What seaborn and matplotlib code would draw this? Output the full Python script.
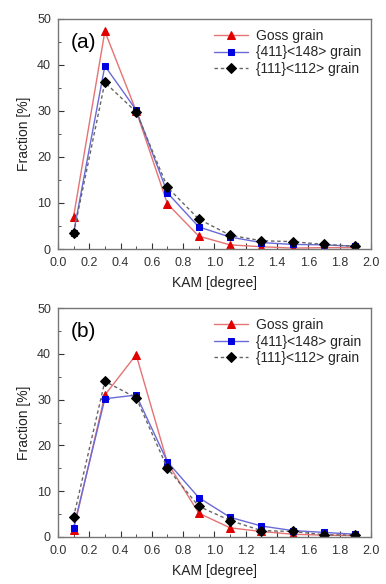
import numpy as np
import pandas as pd
import matplotlib
matplotlib.use("Agg")
import matplotlib.pyplot as plt
import seaborn as sns
from matplotlib.ticker import MultipleLocator, FormatStrFormatter

# KAM-Klassen (Mitte der Bins)
kam = [0.1, 0.3, 0.5, 0.7, 0.9, 1.1, 1.3, 1.5, 1.7, 1.9]
series_names = ["Goss grain", "{411}<148> grain", "{111}<112> grain"]

# Panel (a)
goss_a = [7.0, 47.3, 30.0, 9.8, 2.8, 0.9, 0.5, 0.2, 0.3, 0.3]
g411_a = [3.5, 39.8, 30.2, 12.2, 4.8, 2.6, 1.4, 1.0, 0.9, 0.6]
g111_a = [3.4, 36.2, 29.8, 13.4, 6.5, 3.0, 1.8, 1.6, 1.0, 0.6]

# Panel (b)
goss_b = [1.5, 31.0, 39.8, 16.2, 5.2, 2.0, 1.2, 0.6, 0.4, 0.3]
g411_b = [2.0, 30.2, 31.0, 16.4, 8.6, 4.3, 2.4, 1.4, 1.0, 0.6]
g111_b = [4.3, 34.0, 30.4, 15.0, 6.7, 3.6, 1.4, 1.2, 0.5, 0.4]

sns.set_style("ticks")
plt.rcParams['font.family'] = ['Liberation Sans', 'DejaVu Sans']

styles = {
    "Goss grain": dict(line="#e57373", mk="#e00000", marker="^", ls="-", ms=6),
    "{411}<148> grain": dict(line="#6a6ad8", mk="#0000e0", marker="s", ls="-", ms=5),
    "{111}<112> grain": dict(line="#666666", mk="black", marker="D", ls=(0, (2.5, 2)), ms=5),
}


def make_df(goss, g411, g111):
    frames = []
    for name, vals in zip(series_names, [goss, g411, g111]):
        frames.append(pd.DataFrame({"KAM": kam, "Fraction": vals, "Grain": name}))
    return pd.concat(frames, ignore_index=True)


fig = plt.figure(figsize=(3.86, 5.84), dpi=100)
ax_a = fig.add_axes([0.150, 0.5736, 0.811, 0.394])
ax_b = fig.add_axes([0.150, 0.0805, 0.811, 0.392])

panels = [(ax_a, "(a)", make_df(goss_a, g411_a, g111_a)),
          (ax_b, "(b)", make_df(goss_b, g411_b, g111_b))]

for ax, label, df in panels:
    for name in series_names:
        st = styles[name]
        sub = df[df["Grain"] == name]
        sns.lineplot(data=sub, x="KAM", y="Fraction", ax=ax, color=st["line"],
                     linestyle=st["ls"], linewidth=1.0, marker=st["marker"],
                     markersize=st["ms"], markerfacecolor=st["mk"],
                     markeredgecolor=st["mk"], label=name)
    ax.set_xlim(0, 2.0)
    ax.set_ylim(0, 50)
    ax.xaxis.set_major_locator(MultipleLocator(0.2))
    ax.xaxis.set_minor_locator(MultipleLocator(0.1))
    ax.xaxis.set_major_formatter(FormatStrFormatter("%.1f"))
    ax.yaxis.set_major_locator(MultipleLocator(10))
    ax.yaxis.set_minor_locator(MultipleLocator(5))
    ax.tick_params(which="both", direction="in", labelsize=9, colors="#333333")
    ax.tick_params(which="major", length=4, width=0.8)
    ax.tick_params(which="minor", length=2, width=0.6)
    ax.tick_params(axis="x", which="major", pad=6)
    ax.tick_params(axis="y", which="major", pad=5)
    for sp in ax.spines.values():
        sp.set_color("#777777")
        sp.set_linewidth(1.0)
    ax.set_xlabel("KAM [degree]", fontsize=10, color="#222222", labelpad=5)
    ax.set_ylabel("Fraction [%]", fontsize=10, color="#222222", labelpad=4)
    ax.text(0.04, 0.94, label, transform=ax.transAxes, fontsize=15,
            va="top", ha="left", color="black")
    leg = ax.legend(loc="upper right", frameon=False, fontsize=10,
                    handlelength=2.4, handletextpad=0.6, labelspacing=0.2,
                    borderaxespad=0.3)

fig.savefig("out.png", dpi=100)
